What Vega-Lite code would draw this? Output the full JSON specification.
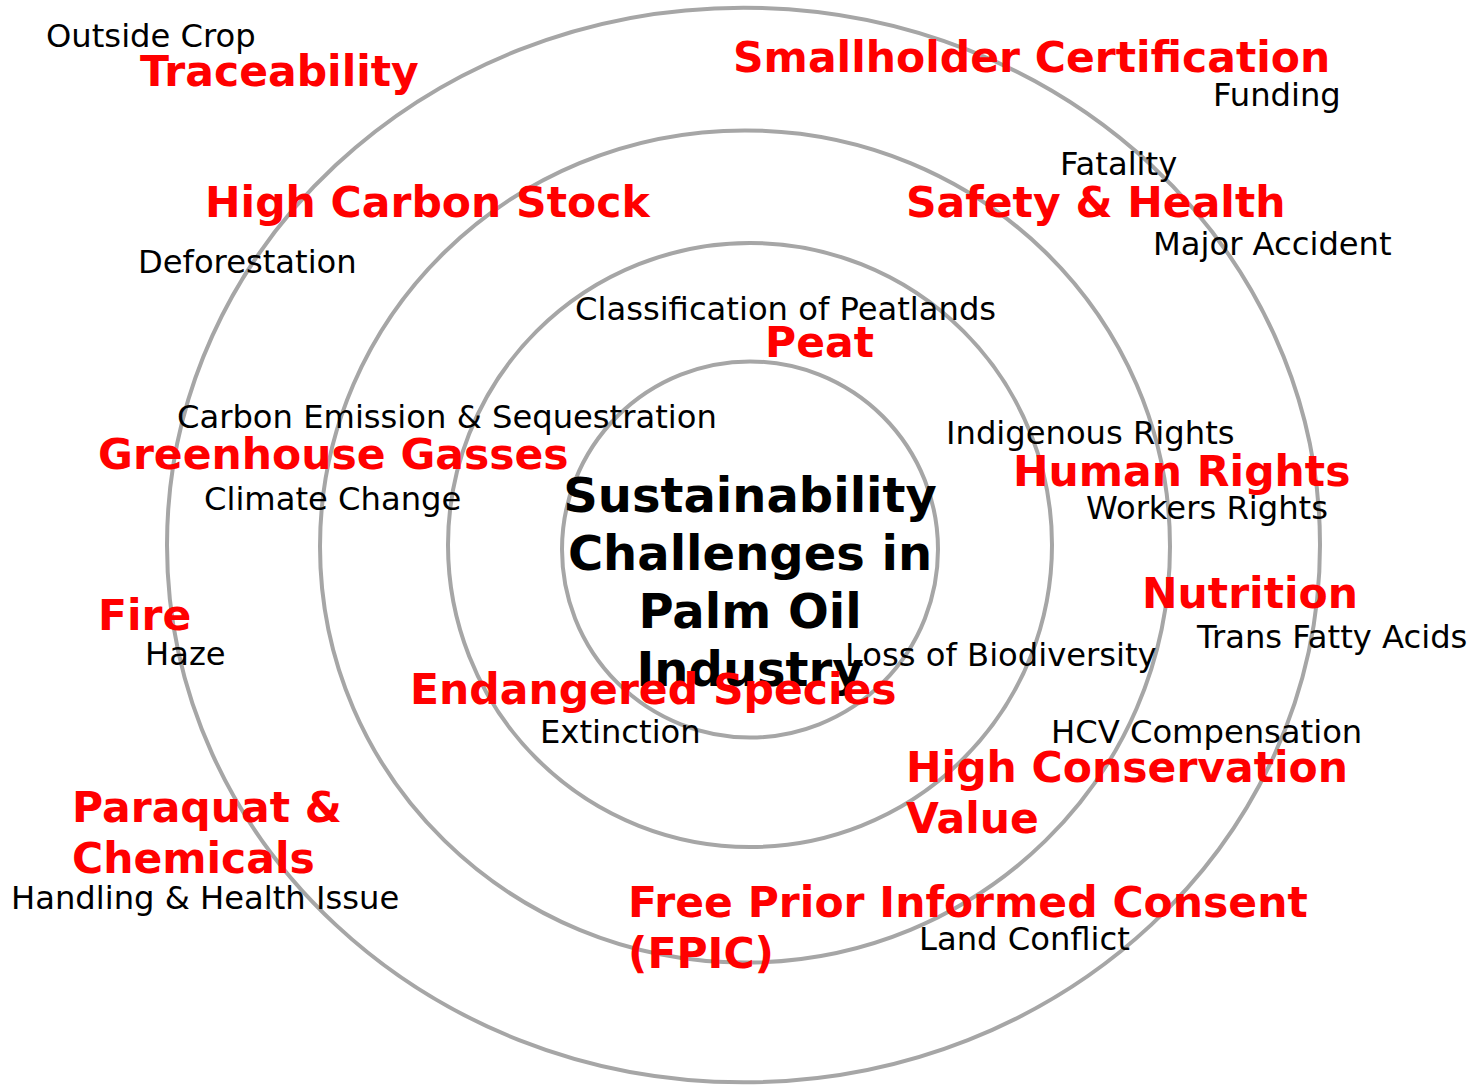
{
  "$schema": "https://vega.github.io/schema/vega-lite/v6.json",
  "width": 1476,
  "height": 1088,
  "autosize": {"type": "fit", "contains": "padding"},
  "padding": 0,
  "background": "white",
  "config": {"view": {"stroke": null}},
  "datasets": {
    "rings": [
      {"ring": "r1", "cx": 750, "cy": 552, "r": 188},
      {"ring": "r2", "cx": 750, "cy": 547.5, "r": 302},
      {"ring": "r3", "cx": 745, "cy": 549, "r": 425},
      {"ring": "r4", "cx": 743.5, "cy": 547.5, "r": 576.5}
    ],
    "topics": [
      {"label": "Traceability", "x": 140, "y": 86},
      {"label": "Smallholder Certification", "x": 733, "y": 72},
      {"label": "High Carbon Stock", "x": 205, "y": 218},
      {"label": "Safety & Health", "x": 906, "y": 218},
      {"label": "Peat", "x": 765, "y": 359},
      {"label": "Greenhouse Gasses", "x": 98, "y": 471},
      {"label": "Human Rights", "x": 1013, "y": 488},
      {"label": "Nutrition", "x": 1142, "y": 611},
      {"label": "Fire", "x": 98, "y": 633},
      {"label": "Endangered Species", "x": 410, "y": 707},
      {"label": "High Conservation\nValue", "x": 906, "y": 786},
      {"label": "Paraquat &\nChemicals", "x": 72, "y": 826},
      {"label": "Free Prior Informed Consent\n(FPIC)", "x": 628, "y": 921}
    ],
    "issues": [
      {"label": "Outside Crop", "x": 46, "y": 47},
      {"label": "Funding", "x": 1213, "y": 106},
      {"label": "Fatality", "x": 1060, "y": 176},
      {"label": "Major Accident", "x": 1153, "y": 256},
      {"label": "Deforestation", "x": 138, "y": 274},
      {"label": "Classification of Peatlands", "x": 575, "y": 321},
      {"label": "Carbon Emission & Sequestration", "x": 177, "y": 430},
      {"label": "Indigenous Rights", "x": 946, "y": 446},
      {"label": "Climate Change", "x": 204, "y": 512},
      {"label": "Workers Rights", "x": 1086, "y": 521},
      {"label": "Trans Fatty Acids", "x": 1197, "y": 651},
      {"label": "Haze", "x": 145, "y": 668},
      {"label": "Loss of Biodiversity", "x": 845, "y": 669},
      {"label": "Extinction", "x": 540, "y": 746},
      {"label": "HCV Compensation", "x": 1051, "y": 746},
      {"label": "Handling & Health Issue", "x": 11, "y": 913},
      {"label": "Land Conflict", "x": 919, "y": 954}
    ],
    "title": [
      {"label": "Sustainability\nChallenges in\nPalm Oil\nIndustry", "x": 750, "y": 514}
    ]
  },
  "layer": [
    {
      "data": {"name": "rings"},
      "mark": {"type": "point", "filled": false, "stroke": "#a6a6a6", "strokeWidth": 4, "opacity": 1},
      "encoding": {
        "x": {"field": "cx", "type": "quantitative", "scale": {"domain": [0, 1476], "nice": false, "zero": false}, "axis": null},
        "y": {"field": "cy", "type": "quantitative", "scale": {"domain": [0, 1088], "nice": false, "zero": false, "reverse": true}, "axis": null},
        "size": {"field": "r", "type": "quantitative", "scale": {"type": "pow", "exponent": 2, "domain": [0, 1000], "range": [0, 4000000]}, "legend": null},
        "shape": {"field": "ring", "type": "nominal", "scale": {"domain": ["r1", "r2", "r3", "r4"], "range": ["circle", "circle", "M -1 0 A 1 0.979 0 1 1 1 0 A 1 0.979 0 1 1 -1 0 Z", "M -1 0 A 1 0.932 0 1 1 1 0 A 1 0.932 0 1 1 -1 0 Z"]}, "legend": null}
      }
    },
    {
      "data": {"name": "title"},
      "mark": {"type": "text", "font": "DejaVu Sans", "fontWeight": "bold", "fontSize": 48, "color": "#000000", "align": "center", "baseline": "alphabetic", "lineBreak": "\n", "lineHeight": 58},
      "encoding": {
        "x": {"field": "x", "type": "quantitative"},
        "y": {"field": "y", "type": "quantitative"},
        "text": {"field": "label", "type": "nominal"}
      }
    },
    {
      "data": {"name": "issues"},
      "mark": {"type": "text", "font": "DejaVu Sans", "fontSize": 32.2, "color": "#000000", "align": "left", "baseline": "alphabetic"},
      "encoding": {
        "x": {"field": "x", "type": "quantitative"},
        "y": {"field": "y", "type": "quantitative"},
        "text": {"field": "label", "type": "nominal"}
      }
    },
    {
      "data": {"name": "topics"},
      "mark": {"type": "text", "font": "DejaVu Sans", "fontWeight": "bold", "fontSize": 42.5, "color": "#ff0000", "align": "left", "baseline": "alphabetic", "lineBreak": "\n", "lineHeight": 51},
      "encoding": {
        "x": {"field": "x", "type": "quantitative"},
        "y": {"field": "y", "type": "quantitative"},
        "text": {"field": "label", "type": "nominal"}
      }
    }
  ]
}
